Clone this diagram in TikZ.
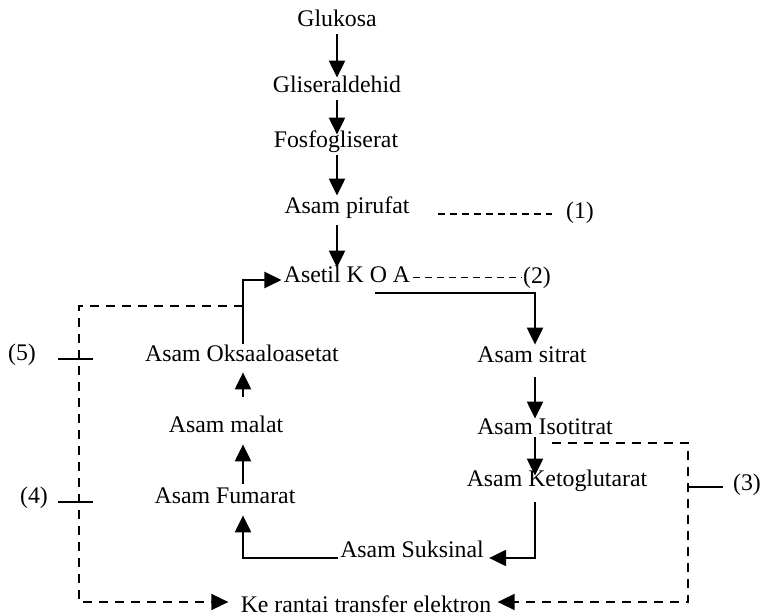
\documentclass[tikz,border=0pt]{standalone}
\usepackage{fontspec}
\setmainfont{Liberation Serif}
\usetikzlibrary{arrows.meta}

\begin{document}
\begin{tikzpicture}[x=0.5pt, y=-0.5pt,
        zat/.style={anchor=base, inner sep=1pt, text height=8pt, text depth=2.5pt,
            font=\fontsize{11.9}{14}\selectfont},
        panah/.style={line width=1.1pt, -{Triangle[length=8.5pt,width=8pt]}},
        putus/.style={line width=0.8pt, dash pattern=on 4.5pt off 3.5pt},
        putuspendek/.style={line width=0.8pt, dash pattern=on 3.5pt off 2.5pt},
        garis/.style={line width=0.8pt}]
    \useasboundingbox (0,0) rectangle (765,613);

    % glikolisis
    \node[zat] (glukosa) at (337,27) {Glukosa};
    \node[zat] (glis) at (337,93) {Gliseraldehid};
    \node[zat] (fosfo) at (336,148) {Fosfogliserat};
    \node[zat] (pirufat) at (347,214) {Asam pirufat};
    \node[zat] (asetil) at (347,283) {Asetil K O A};

    % siklus
    \node[zat] (oksa) at (242,362) {Asam Oksaaloasetat};
    \node[zat] (malat) at (226,433) {Asam malat};
    \node[zat] (fumarat) at (225,504) {Asam Fumarat};
    \node[zat] (suksinal) at (412,558) {Asam Suksinal};
    \node[zat] (sitrat) at (532,363) {Asam sitrat};
    \node[zat] (isotitrat) at (545,435) {Asam Isotitrat};
    \node[zat] (keto) at (557,487) {Asam Ketoglutarat};
    \node[zat] (kerantai) at (366,613) {Ke rantai transfer elektron};

    % nomor
    \node[zat] (n1) at (580,219) {(1)};
    \node[zat] (n2) at (537,284) {(2)};
    \node[zat] (n3) at (747,491) {(3)};
    \node[zat] (n4) at (34,504) {(4)};
    \node[zat] (n5) at (22,361) {(5)};

    \coordinate (lbend) at (243,280);
    \coordinate (rstart) at (375,293);
    \coordinate (rbend) at (535,293);
    \coordinate (ldash) at (243,306);
    \coordinate (lcorner) at (79,306);
    \coordinate (rdash) at (552,443);
    \coordinate (rcorner) at (688,443);
    \coordinate (tick5) at (79,359);
    \coordinate (tick4) at (79,502);
    \coordinate (tick3) at (688,487);

    \draw[panah, shorten >=-1.5pt] (glukosa) -- (glis);
    \draw[panah, shorten >=-2.5pt] (glis.south) -- (glis.south |- fosfo.north);
    \draw[panah] (fosfo.south -| glis) -- (glis |- pirufat.north);
    \draw[panah, shorten <=2pt, shorten >=-1.5pt] (pirufat.south -| glis) -- (glis |- asetil.north);

    \draw[panah] (oksa.north -| lbend) -- (lbend) -- (lbend -| asetil.west);
    \draw[panah, shorten <=9pt, shorten >=1.5pt] (malat.north -| lbend) -- (lbend |- oksa.south);
    \draw[panah, shorten <=1pt, shorten >=2pt] (fumarat.north -| lbend) -- (lbend |- malat.south);
    \draw[panah, shorten >=2pt] (suksinal.base west) -| (lbend |- fumarat.south);

    \draw[panah] (rstart) -- (rbend) -- (rbend |- sitrat.north);
    \draw[panah, shorten <=3.5pt, shorten >=-1pt] (rbend |- sitrat.south) -- (rbend |- isotitrat.north);
    \draw[panah, shorten <=-2.5pt, shorten >=-3.5pt] (rbend |- isotitrat.south) -- (rbend |- keto.north);
    \draw[panah, shorten <=4pt, shorten >=1.5pt] (rbend |- keto.south) |- (suksinal.base east);

    % garis putus-putus
    \draw[putuspendek] ([xshift=13pt]pirufat.base east) -- ([xshift=-6pt]pirufat.base east -| n1.west);
    \draw[putuspendek] (asetil.east) -- (asetil.east -| n2.west);
    \draw[putus, panah, line width=0.8pt] (ldash) -- (lcorner) |- ([shift={(-5pt,2.75pt)}]kerantai.west);
    \draw[putus, panah, line width=0.8pt] (rdash) -- (rcorner) |- ([shift={(2pt,2.75pt)}]kerantai.east);

    \draw[garis] ([xshift=-10.5pt]tick5) -- ([xshift=7pt]tick5);
    \draw[garis] ([xshift=-10.5pt]tick4) -- ([xshift=7pt]tick4);
    \draw[garis] (tick3) -- ([xshift=17.5pt]tick3);
\end{tikzpicture}
\end{document}
